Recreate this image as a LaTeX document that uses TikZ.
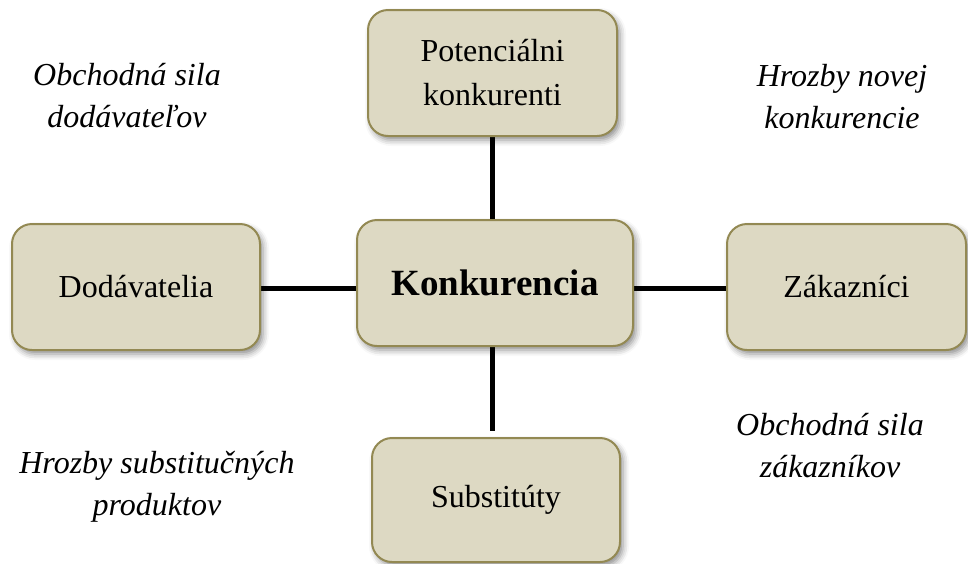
\documentclass[tikz,border=0pt]{standalone}
\usepackage{fontspec}
\setmainfont{Liberation Serif}
\usetikzlibrary{shadows.blur}
\pgfdeclarelayer{background}
\pgfsetlayers{background,main}
\definecolor{boxfill}{HTML}{DDD9C3}
\definecolor{boxedge}{HTML}{938953}
\begin{document}
\begin{tikzpicture}[x=1pt,y=-1pt,
  forcebox/.style={draw=boxedge, line width=2pt, fill=boxfill,
    rounded corners=20pt, align=center, inner sep=0pt,
    font=\fontsize{32}{44}\selectfont,
    blur shadow={shadow xshift=3pt, shadow yshift=-4pt,
      shadow blur radius=6pt, shadow opacity=45}},
  note/.style={align=center, font=\fontsize{32}{42}\selectfont\itshape},
  link/.style={line width=5pt, black}]
\useasboundingbox (0,0) rectangle (968,563);

% the five forces
\node[forcebox, minimum width=249pt, minimum height=126pt] (potential) at (492.5,73) {Potenciálni\\konkurenti};
\node[forcebox, minimum width=276pt, minimum height=126pt, font=\fontsize{37}{44}\selectfont\bfseries] (rivalry) at (495,283) {Konkurencia};
\node[forcebox, minimum width=248pt, minimum height=126pt] (suppliers) at (136,287) {Dodávatelia};
\node[forcebox, minimum width=239pt, minimum height=126pt] (buyers) at (846.5,287) {Zákazníci};
\node[forcebox, minimum width=248pt, minimum height=124pt] (substitutes) at (496,500) {Substitúty};

% connectors behind the boxes
\begin{pgfonlayer}{background}
\draw[link] (potential.south) -- (potential.south |- rivalry.north);
\draw[link] (rivalry.south -| potential.south) -- ++(0,84) coordinate (subend);
\draw[link] (suppliers.east |- 0,288) -- (rivalry.west |- 0,288);
\draw[link] (rivalry.east |- 0,288) -- (buyers.west |- 0,288);
\end{pgfonlayer}

% italic labels in the corners
\node[note] (supplierpower) at (127,96) {Obchodná sila\\dodávateľov};
\node[note] (entrants) at (842,97) {Hrozby novej\\konkurencie};
\node[note] (substthreat) at (157,487) {Hrozby substitučných\\produktov};
\node[note] (buyerpower) at (830,446) {Obchodná sila\\zákazníkov};
\end{tikzpicture}
\end{document}
